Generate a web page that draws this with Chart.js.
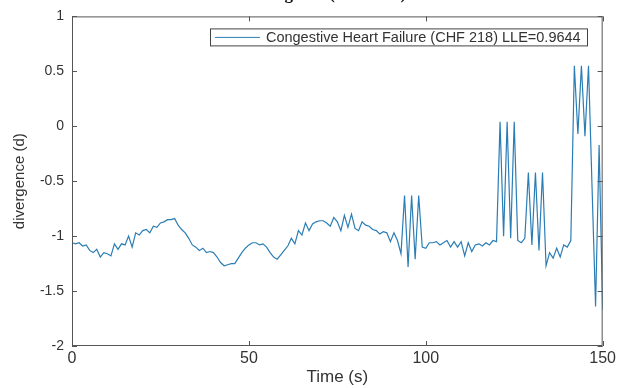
<!DOCTYPE html>
<html lang="en">
<head>
    <meta charset="UTF-8">
    <title>Divergence (CHF 218)</title>
    <script src="https://cdn.jsdelivr.net/npm/chart.js"></script>
    <style>
        body { margin: 0; background: #fff; }
        #wrap { width: 619px; height: 388px; }
    </style>
</head>
<body>
    <div id="wrap"><canvas id="divChart" width="619" height="388"></canvas></div>
    <script>
        // time axis (s), one sample per second
        const timeSec = [];
        for (let t = 0; t <= 150; t++) timeSec.push(t);

        // divergence values
        const divergence = [
            -1.06, -1.07, -1.06, -1.09, -1.08, -1.13, -1.15, -1.12, -1.19, -1.15,
            -1.16, -1.18, -1.07, -1.12, -1.07, -1.08, -1.00, -1.10, -0.97, -0.99,
            -0.95, -0.94, -0.97, -0.91, -0.92, -0.88, -0.87, -0.85, -0.85, -0.84,
            -0.90, -0.94, -0.97, -1.02, -1.08, -1.10, -1.13, -1.11, -1.15, -1.14,
            -1.15, -1.19, -1.24, -1.27, -1.26, -1.25, -1.25, -1.20, -1.15, -1.11,
            -1.08, -1.06, -1.06, -1.08, -1.07, -1.10, -1.15, -1.19, -1.21, -1.17,
            -1.13, -1.09, -1.02, -1.07, -0.95, -0.99, -0.88, -0.95, -0.89, -0.87,
            -0.86, -0.86, -0.88, -0.91, -0.83, -0.87, -0.95, -0.81, -0.92, -0.80,
            -0.93, -0.95, -0.87, -0.90, -0.91, -0.94, -0.95, -0.98, -0.96, -0.97,
            -1.05, -0.97, -1.04, -1.16, -0.63, -1.28, -0.63, -1.21, -0.63, -1.10,
            -1.11, -1.06, -1.06, -1.05, -1.08, -1.06, -1.04, -1.10, -1.05, -1.10,
            -1.05, -1.18, -1.06, -1.14, -1.08, -1.07, -1.09, -1.06, -1.08, -1.04,
            -1.05, 0.04, -1.00, 0.04, -1.02, 0.04, -1.04, -1.06, -1.02, -0.42,
            -1.08, -0.42, -1.13, -0.42, -1.27, -1.15, -1.20, -1.11, -1.19, -1.08,
            -1.10, -1.04, 0.55, -0.07, 0.55, -0.09, 0.55, -0.55, -1.64, -0.17,
            -1.67
        ];

        const seriesLabel = 'Congestive Heart Failure (CHF 218) LLE=0.9644';
        const titleText = 'Divergence (CHF 218)';
        const xTicks = [0, 50, 100, 150];
        const yTicks = [-2, -1.5, -1, -0.5, 0, 0.5, 1];

        const axisColor = '#555';
        const textColor = '#333';
        const sans = '"Liberation Sans", Arial, sans-serif';

        // box around the axes with inward ticks, MATLAB style
        const framePlugin = {
            id: 'frame',
            afterDraw(chart) {
                const { ctx, chartArea: a, scales: { x, y } } = chart;
                ctx.save();
                ctx.strokeStyle = axisColor;
                ctx.lineWidth = 1;
                ctx.strokeRect(a.left + 0.5, a.top + 0.5, a.right - a.left - 1, a.bottom - a.top - 1);
                ctx.beginPath();
                xTicks.forEach(v => {
                    const px = Math.round(x.getPixelForValue(v)) + 0.5;
                    ctx.moveTo(px, a.bottom); ctx.lineTo(px, a.bottom - 5);
                    ctx.moveTo(px, a.top); ctx.lineTo(px, a.top + 5);
                });
                yTicks.forEach(v => {
                    const py = Math.round(y.getPixelForValue(v)) + 0.5;
                    ctx.moveTo(a.left, py); ctx.lineTo(a.left + 5, py);
                    ctx.moveTo(a.right, py); ctx.lineTo(a.right - 5, py);
                });
                ctx.stroke();

                // legend box in the top right corner
                ctx.font = '14.5px ' + sans;
                const tw = ctx.measureText(seriesLabel).width;
                const bw = tw + 62, bh = 17;
                const bx = a.right - 16 - bw, by = a.top + 12;
                ctx.fillStyle = '#fff';
                ctx.fillRect(bx, by, bw, bh);
                ctx.strokeStyle = '#444';
                ctx.strokeRect(Math.round(bx) + 0.5, by + 0.5, Math.round(bw), bh);
                ctx.strokeStyle = chart.data.datasets[0].borderColor;
                ctx.beginPath();
                ctx.moveTo(bx + 5, by + bh / 2 + 0.5);
                ctx.lineTo(bx + 50, by + bh / 2 + 0.5);
                ctx.stroke();
                ctx.fillStyle = textColor;
                ctx.textBaseline = 'middle';
                ctx.fillText(seriesLabel, bx + 56, by + bh / 2 + 1);

                // title, cut off by the top edge (only descenders show)
                ctx.font = 'bold 17px "Liberation Serif", serif';
                ctx.textAlign = 'center';
                ctx.textBaseline = 'alphabetic';
                ctx.fillStyle = '#111';
                ctx.fillText(titleText, 325, -1);
                ctx.restore();
            }
        };

        const ctx = document.getElementById('divChart').getContext('2d');
        new Chart(ctx, {
            type: 'line',
            data: {
                labels: timeSec,
                datasets: [{
                    label: seriesLabel,
                    data: divergence,
                    borderColor: '#2a7db5',
                    borderWidth: 1.2,
                    pointRadius: 0,
                    tension: 0,
                    fill: false
                }]
            },
            options: {
                responsive: false,
                animation: false,
                layout: { padding: { left: 0, right: 15, top: 16, bottom: 0 } },
                plugins: {
                    legend: { display: false },
                    tooltip: { enabled: false }
                },
                scales: {
                    x: {
                        type: 'linear',
                        min: 0,
                        max: 150,
                        afterFit: s => { s.height = 42; },
                        afterBuildTicks: s => { s.ticks = xTicks.map(v => ({ value: v })); },
                        grid: { display: false, drawTicks: false },
                        border: { display: false },
                        ticks: {
                            padding: 3,
                            color: textColor,
                            font: { family: sans, size: 16 },
                            maxRotation: 0,
                            callback: v => String(v)
                        },
                        title: {
                            display: true,
                            text: 'Time (s)',
                            color: textColor,
                            padding: { top: 0, bottom: 0 },
                            font: { family: sans, size: 17 }
                        }
                    },
                    y: {
                        min: -2,
                        max: 1,
                        afterFit: s => { s.width = 72; },
                        afterBuildTicks: s => { s.ticks = yTicks.map(v => ({ value: v })); },
                        grid: { display: false, drawTicks: false },
                        border: { display: false },
                        ticks: {
                            padding: 8,
                            color: textColor,
                            font: { family: sans, size: 14 },
                            callback: v => String(v)
                        },
                        title: {
                            display: true,
                            text: 'divergence (d)',
                            color: textColor,
                            padding: { top: 11, bottom: 0 },
                            font: { family: sans, size: 15 }
                        }
                    }
                }
            },
            plugins: [framePlugin]
        });
    </script>
</body>
</html>
